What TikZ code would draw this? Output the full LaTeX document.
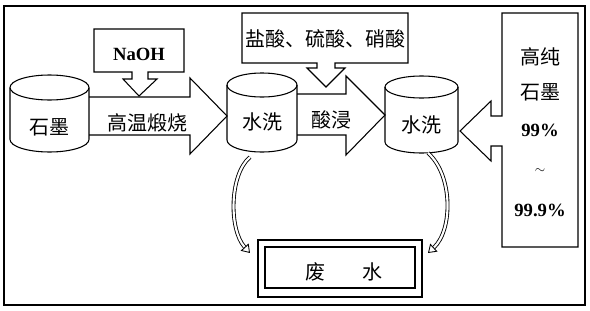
\documentclass[tikz,border=0pt]{standalone}
\usepackage{fontspec}
\setmainfont{Liberation Serif}
\newfontfamily\cjk{Noto Sans CJK SC}
\usetikzlibrary{arrows.meta}
\begin{document}
\begin{tikzpicture}[x=0.75pt, y=-0.75pt, line width=0.8pt,
        zh/.style={font=\cjk\fontsize{15}{18}\selectfont},
        num/.style={font=\bfseries\fontsize{14}{16}\selectfont},
        drain/.style={double, double distance=1.6pt, line width=0.65pt, -{Triangle[open, length=6pt, width=8pt]}}]
        \useasboundingbox (0,0) rectangle (590,311);
        \draw (4,6) rectangle (585,305);
        % tanks
        \foreach \cx/\a/\yt/\yb/\b in {49.5/39.5/87.5/139.5/12.5, 262/35/85/140/12, 421.5/36.5/87/142/11}{
            \draw[fill = white] (\cx-\a, \yt) -- (\cx-\a, \yb) arc[start angle = 180, end angle = 0, x radius = \a, y radius = \b] -- (\cx+\a, \yt);
            \draw (\cx, \yt) ellipse[x radius = \a, y radius = \b];
        }
        \node[zh] (graphite) at (50, 127) {石墨};
        \node[zh] (wash1) at (262, 122) {水洗};
        \node[zh] (wash2) at (421, 125) {水洗};
        % block arrows
        \draw (89, 97) -- (190, 97) -- (190, 78) -- (227, 116) -- (190, 154) -- (190, 135) -- (89, 135);
        \node[zh] (calcine) at (147, 123) {高温煅烧};
        \draw (297, 94) -- (346, 94) -- (346, 76) -- (385, 115) -- (346, 155) -- (346, 135) -- (297, 135);
        \node[zh] (leach) at (331, 120) {酸浸};
        % boxes with down arrows
        \draw (132, 72) -- (94, 72) -- (94, 29) -- (184, 29) -- (184, 72) -- (148, 72) -- (148, 79) -- (157, 79) -- (139, 96) -- (123, 79) -- (132, 79) -- cycle;
        \node[num] (naoh) at (139, 54) {NaOH};
        \draw (317, 63) -- (242, 63) -- (242, 13) -- (408, 13) -- (408, 63) -- (335, 63) -- (335, 68) -- (345, 68) -- (326, 87) -- (307, 68) -- (317, 68) -- cycle;
        \node[zh] (acids) at (325, 39) {盐酸、硫酸、硝酸};
        % product box
        \draw (502, 116) -- (502, 13) -- (578, 13) -- (578, 247) -- (502, 247) -- (502, 146) -- (491, 146) -- (491, 161) -- (460, 131) -- (491, 101) -- (491, 116) -- cycle;
        \node[zh] (pure) at (540, 57) {高纯};
        \node[zh] (pure2) at (540, 92) {石墨};
        \node[num] (low) at (540, 130) {99\%};
        \node (tilde) at (540, 171) {$\sim$};
        \node[num] (high) at (540, 210) {99.9\%};
        % waste water
        \draw (258, 240) rectangle (422, 297);
        \draw (265, 247) rectangle (415, 288);
        \node[zh] (waste) at (344, 272) {废\hspace{1.9em}水};
        \coordinate (out1) at (250, 157);
        \coordinate (in1) at (250, 253);
        \coordinate (out2) at (428, 153);
        \coordinate (in2) at (428, 253);
        \draw[drain] (out1) .. controls (229, 175) and (229, 230) .. (in1);
        \draw[drain] (out2) .. controls (453, 175) and (453, 230) .. (in2);
    \end{tikzpicture}
\end{document}
